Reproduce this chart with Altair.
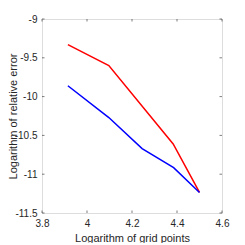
import altair as alt
import pandas as pd

# data
x_red = [3.915, 4.097, 4.383, 4.5]
y_red = [-9.33, -9.60, -10.61, -11.235]
x_blue = [3.915, 4.097, 4.245, 4.385, 4.5]
y_blue = [-9.86, -10.27, -10.67, -10.915, -11.235]
x_ticks = [3.8, 4.0, 4.2, 4.4, 4.6]
y_ticks = [-11.5, -11.0, -10.5, -10.0, -9.5, -9.0]
x_title = "Logarithm of grid points"
y_title = "Logarithm of relative error"

W, H = 180, 194
FONT = "Liberation Sans"
TXT = "#262626"

df = pd.DataFrame(
    {"x": x_red + x_blue,
     "y": y_red + y_blue,
     "s": ["red"] * len(x_red) + ["blue"] * len(x_blue),
     "o": list(range(len(x_red))) + list(range(len(x_blue)))}
)
dfx = pd.DataFrame({"x": x_ticks})
dfy = pd.DataFrame({"y": y_ticks})

lab = "replace(format(datum.value, '~g'), '\u2212', '-')"
xaxis = alt.Axis(values=x_ticks, ticks=False, domain=False, grid=False, labelExpr=lab,
                 labelFlush=False, labelOverlap=False,
                 labelFontSize=10, labelColor=TXT, labelFont=FONT, labelPadding=5,
                 titleFontSize=11, titleFont=FONT, titleColor=TXT, titleFontWeight="normal",
                 titleY=25, titleBaseline="middle")
yaxis = alt.Axis(values=y_ticks, ticks=False, domain=False, grid=False, labelExpr=lab,
                 labelFlush=False, labelOverlap=False,
                 labelFontSize=10, labelColor=TXT, labelFont=FONT, labelPadding=5,
                 titleFontSize=11, titleFont=FONT, titleColor=TXT, titleFontWeight="normal",
                 titleX=-28.5, titleBaseline="middle")
xs = alt.Scale(domain=[3.8, 4.6], nice=False, zero=False)
ys = alt.Scale(domain=[-11.5, -9.0], nice=False, zero=False)

def X(f="x"):
    return alt.X(f"{f}:Q", scale=xs, axis=xaxis, title=x_title)

def Y(f="y"):
    return alt.Y(f"{f}:Q", scale=ys, axis=yaxis, title=y_title)

lines = alt.Chart(df).mark_line(strokeWidth=1.5).encode(
    x=X(), y=Y(), order="o:Q",
    color=alt.Color("s:N", scale=alt.Scale(domain=["red", "blue"], range=["#ff0000", "#0000ff"]),
                    legend=None),
)

tcol = "#262626"
bt = alt.Chart(dfx).mark_rule(color=tcol, strokeWidth=0.6).encode(x=X(), y=alt.value(H), y2=alt.value(H - 2.5))
tt = alt.Chart(dfx).mark_rule(color=tcol, strokeWidth=0.6).encode(x=X(), y=alt.value(0), y2=alt.value(2.5))
lt = alt.Chart(dfy).mark_rule(color=tcol, strokeWidth=0.6).encode(y=Y(), x=alt.value(0), x2=alt.value(2.5))
rt = alt.Chart(dfy).mark_rule(color=tcol, strokeWidth=0.6).encode(y=Y(), x=alt.value(W), x2=alt.value(W - 2.5))

chart = alt.layer(bt, tt, lt, rt, lines).properties(
    width=W, height=H,
    autosize=alt.AutoSizeParams(type="none"),
    padding={"left": 34, "top": 11, "right": 15, "bottom": 30},
).configure_view(stroke="#262626", strokeWidth=0.6).configure(background="white")

chart.save("out.html", embed_options={"renderer": "svg", "actions": False})
